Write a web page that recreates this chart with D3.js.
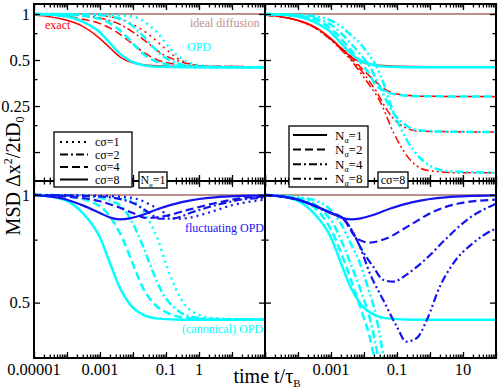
<!DOCTYPE html>
<html>
<head>
<meta charset="utf-8">
<script src="https://d3js.org/d3.v7.min.js"></script>
<style>
  html, body { margin: 0; padding: 0; background: #fff; }
  svg { display: block; font-family: "Liberation Serif", "Times New Roman", serif; }
</style>
</head>
<body>
<div id="graph"></div>
<script>
///////////////////////////////////////////////////////////////////////////////
// Data: [time t/tau_B, MSD dx^2/2tD0] ////////////////////
///////////////////////////////////////////////////////////////////////////////

// N_alpha = 1, c sigma = 8, 4, 2, 1 -- (canonical) OPD
const opdN1c8 = [[1e-5,1.0],[3e-5,0.99],[1e-4,0.962],[3e-4,0.89],[1e-3,0.76],[2e-3,0.645],[4e-3,0.55],[8e-3,0.495],[2e-2,0.463],[6e-2,0.451],[0.3,0.448],[100,0.448]];
const opdN1c4 = [[1e-5,1.0],[1e-4,0.99],[1e-3,0.93],[2e-3,0.87],[5e-3,0.75],[1e-2,0.64],[2e-2,0.55],[5e-2,0.49],[0.1,0.47],[0.3,0.455],[3,0.449],[100,0.448]];
const opdN1c2 = [[1e-5,1.0],[3e-4,0.995],[3e-3,0.95],[6e-3,0.9],[1e-2,0.83],[2e-2,0.72],[4e-2,0.61],[8e-2,0.53],[0.2,0.48],[0.5,0.458],[3,0.45],[100,0.448]];
const opdN1c1 = [[1e-5,1.0],[1e-3,0.995],[1e-2,0.96],[3e-2,0.85],[6e-2,0.74],[0.1,0.64],[0.2,0.545],[0.4,0.49],[1,0.462],[3,0.452],[100,0.448]];

// N_alpha = 1 -- exact
const exN1c8 = [[1e-5,0.985],[3e-5,0.96],[1e-4,0.91],[3e-4,0.83],[1e-3,0.69],[2e-3,0.6],[4e-3,0.525],[1e-2,0.48],[3e-2,0.462],[0.1,0.455],[1,0.452],[100,0.452]];
const exN1c4 = [[1e-5,0.995],[1e-4,0.965],[3e-4,0.925],[1e-3,0.865],[3e-3,0.77],[6e-3,0.69],[1e-2,0.635],[2e-2,0.565],[5e-2,0.505],[0.2,0.468],[1,0.455],[100,0.452]];
const exN1c2 = [[1e-5,1.0],[1e-4,0.99],[1e-3,0.94],[4e-3,0.855],[1e-2,0.76],[2.5e-2,0.66],[7e-2,0.555],[0.2,0.5],[0.5,0.47],[2,0.455],[100,0.452]];
const exN1c1 = [[1e-5,1.0],[1e-3,0.98],[3e-3,0.94],[1.3e-2,0.83],[3.5e-2,0.715],[9e-2,0.6],[0.22,0.515],[0.55,0.472],[2,0.455],[100,0.452]];

// c sigma = 8, N_alpha = 2, 4, 8 -- exact (N_alpha = 1 is exN1c8)
const exC8n2 = [[1e-5,0.985],[1e-4,0.905],[3e-4,0.825],[1e-3,0.685],[2e-3,0.6],[4e-3,0.53],[7e-3,0.46],[1.2e-2,0.41],[2e-2,0.37],[4e-2,0.325],[0.1,0.3],[0.5,0.29],[100,0.288]];
const exC8n4 = [[1e-5,0.985],[1e-4,0.905],[3e-4,0.82],[1e-3,0.68],[2e-3,0.59],[4e-3,0.51],[8e-3,0.43],[1.5e-2,0.36],[2.4e-2,0.31],[5e-2,0.235],[0.12,0.19],[0.5,0.171],[100,0.169]];
const exC8n8 = [[1e-5,0.985],[1e-4,0.905],[3e-4,0.82],[1e-3,0.675],[2e-3,0.585],[4e-3,0.5],[8e-3,0.41],[1.5e-2,0.34],[3e-2,0.27],[8e-2,0.166],[0.2,0.118],[0.8,0.095],[8,0.0915],[100,0.0915]];

// c sigma = 8 -- (canonical) OPD (N_alpha = 1 is opdN1c8)
const opdC8n2 = [[1e-5,1.0],[1e-4,0.975],[1e-3,0.8],[2e-3,0.69],[4e-3,0.58],[8e-3,0.48],[1.5e-2,0.4],[2.1e-2,0.35],[4e-2,0.315],[0.1,0.297],[0.5,0.29],[100,0.288]];
const opdC8n4 = [[1e-5,1.0],[1e-4,0.98],[1e-3,0.85],[2e-3,0.75],[4e-3,0.64],[8e-3,0.54],[1.5e-2,0.452],[3e-2,0.335],[7.8e-2,0.224],[0.155,0.193],[0.4,0.174],[3,0.17],[100,0.169]];
const opdC8n8 = [[1e-5,1.0],[1e-4,0.985],[5e-4,0.95],[2e-3,0.83],[4e-3,0.73],[7.6e-3,0.643],[1.2e-2,0.566],[2.4e-2,0.452],[3.9e-2,0.352],[6.2e-2,0.26],[0.123,0.183],[0.31,0.129],[0.8,0.105],[3.2,0.094],[100,0.0915]];

// fluctuating OPD, N_alpha = 1, c sigma = 8, 4, 2, 1
const flN1c8 = [[1e-5,1.0],[1e-4,0.97],[3e-4,0.935],[1e-3,0.89],[2e-3,0.865],[4e-3,0.855],[8e-3,0.86],[2e-2,0.88],[6e-2,0.915],[0.3,0.955],[3,0.985],[100,0.997]];
const flN1c4 = [[1e-5,1.0],[1e-4,0.99],[1e-3,0.96],[3e-3,0.93],[1e-2,0.89],[2.5e-2,0.862],[5e-2,0.865],[0.1,0.874],[0.4,0.905],[3,0.948],[20,0.98],[100,0.99]];
const flN1c2 = [[1e-5,1.0],[1e-3,0.99],[1e-2,0.95],[2.6e-2,0.9],[6.6e-2,0.858],[0.16,0.86],[0.7,0.898],[3.5,0.938],[28,0.975],[100,0.982]];
const flN1c1 = [[1e-5,1.0],[1e-3,0.995],[1e-2,0.98],[1.6e-2,0.968],[6.6e-2,0.908],[0.2,0.857],[0.45,0.862],[1.7,0.889],[11,0.938],[100,0.97]];

// fluctuating OPD, c sigma = 8, N_alpha = 2, 4, 8
const flC8n2 = [[1e-5,1.0],[1e-4,0.97],[3e-4,0.935],[1e-3,0.89],[2.3e-3,0.86],[5.4e-3,0.765],[1e-2,0.74],[1.5e-2,0.736],[4.9e-2,0.757],[0.25,0.824],[1.26,0.898],[8.1,0.948],[100,0.97]];
const flC8n4 = [[1e-5,1.0],[1e-4,0.97],[3e-4,0.935],[1e-3,0.89],[2.3e-3,0.86],[5.4e-3,0.765],[7.6e-3,0.717],[1.9e-2,0.63],[3.8e-2,0.579],[7.8e-2,0.572],[0.19,0.598],[0.8,0.666],[3.2,0.757],[13,0.851],[83,0.938],[100,0.945]];
const flC8n8 = [[1e-5,1.0],[1e-4,0.97],[3e-4,0.935],[1e-3,0.89],[2.3e-3,0.86],[5.4e-3,0.765],[7.6e-3,0.715],[1.5e-2,0.604],[3.8e-2,0.509],[9.8e-2,0.429],[0.19,0.389],[0.4,0.398],[0.8,0.447],[2,0.555],[5.1,0.644],[20,0.733],[83,0.799],[100,0.805]];

// Ideal diffusion
const ideal = [[1e-5,1],[100,1]];

// Axes
const timeDomain = [1e-5, 100];
const topValueDomain = [0.0808, 1.1626];
const bottomValueDomain = [0.35, 1.094];
const leftTimeLabels = [[1e-5,"0.00001"],[1e-3,"0.001"],[0.1,"0.1"],[1,"1"]];
const rightTimeLabels = [[1e-3,"0.001"],[0.1,"0.1"],[10,"10"]];
const topValueLabels = [[1,"1"],[0.5,"0.5"],[0.25,"0.25"]];
const bottomValueLabels = [[1,"1"],[0.5,"0.5"]];
const topValueMajor = [1, 0.5, 0.25, 0.125];
const topValueMinor = [0.75, 0.375, 0.1875];
const bottomValueMajor = [1, 0.5];
const bottomValueMinor = [0.75];

const csLegend = ["cσ=1", "cσ=2", "cσ=4", "cσ=8"];
const naLegend = ["1", "2", "4", "8"];

///////////////////////////////////////////////////////////////////////////////
// Layout and styles //////////////////////////////////////////////////////////
///////////////////////////////////////////////////////////////////////////////

const width = 498, height = 389;
const panelW = 231, panelH = 177;
const left0 = 34, right0 = 265, top0 = 4, bottom0 = 181;

const RED = "#ff0000", CYAN = "#00ffff", BLUE = "#1414f0", ROSY = "#bc8f8f";
const DASH = {
  solid: null,
  dot: "2,4",
  dashdot: "8,3,2,3",
  dash: "8,4",
  dashdotdot: "8,3,2,3,2,3",
};

const decades = d3.range(-5, 3).map(e => Math.pow(10, e));
const minorTimes = d3.range(-5, 2).flatMap(e =>
  d3.range(2, 10).map(k => k * Math.pow(10, e))
);

const svg = d3
  .select("#graph")
  .append("svg")
  .attr("width", width)
  .attr("height", height);

/**
 * One panel: frame, inward ticks on all four sides, clipped curves.
 */
function drawPanel(id, x0, y0, yDomain, yMajor, yMinor, curves) {
  const x = d3.scaleLog().domain(timeDomain).range([0, panelW]);
  const y = d3.scaleLog().domain(yDomain).range([panelH, 0]);

  const g = svg.append("g").attr("transform", `translate(${x0},${y0})`);

  svg
    .append("clipPath")
    .attr("id", `clip-${id}`)
    .append("rect")
    .attr("width", panelW)
    .attr("height", panelH);

  const line = d3
    .line()
    .x(d => x(d[0]))
    .y(d => y(d[1]))
    .curve(d3.curveMonotoneX);

  const plot = g.append("g").attr("clip-path", `url(#clip-${id})`);
  curves.forEach(c => {
    plot
      .append("path")
      .attr("d", line(c.data))
      .attr("fill", "none")
      .attr("stroke", c.color)
      .attr("stroke-width", c.width)
      .attr("stroke-dasharray", DASH[c.dash]);
  });

  // Ticks on all four sides, pointing inwards
  const tickAxis = (axis, values, size, tx, ty) => {
    const a = g
      .append("g")
      .attr("transform", `translate(${tx},${ty})`)
      .call(axis.tickValues(values).tickSize(-size).tickFormat(""));
    a.select(".domain").remove();
    a.selectAll("line").attr("stroke", "#000").attr("stroke-width", 1.3);
  };
  [[d3.axisBottom, 0, panelH], [d3.axisTop, 0, 0]].forEach(([f, tx, ty]) => {
    tickAxis(f(x), decades, 6, tx, ty);
    tickAxis(f(x), minorTimes, 3.5, tx, ty);
  });
  [[d3.axisLeft, 0, 0], [d3.axisRight, panelW, 0]].forEach(([f, tx, ty]) => {
    tickAxis(f(y), yMajor, 6, tx, ty);
    tickAxis(f(y), yMinor, 3.5, tx, ty);
  });

  g.append("rect")
    .attr("width", panelW)
    .attr("height", panelH)
    .attr("fill", "none")
    .attr("stroke", "#000")
    .attr("stroke-width", 2);

  return { g, x, y };
}

const idealCurve = { data: ideal, color: ROSY, width: 2, dash: "solid" };

const tl = drawPanel("tl", left0, top0, topValueDomain, topValueMajor, topValueMinor, [
  idealCurve,
  { data: exN1c1, color: RED, width: 1.5, dash: "dot" },
  { data: exN1c2, color: RED, width: 1.5, dash: "dashdot" },
  { data: exN1c4, color: RED, width: 1.5, dash: "dash" },
  { data: exN1c8, color: RED, width: 1.5, dash: "solid" },
  { data: opdN1c1, color: CYAN, width: 2.5, dash: "dot" },
  { data: opdN1c2, color: CYAN, width: 2.5, dash: "dashdot" },
  { data: opdN1c4, color: CYAN, width: 2.5, dash: "dash" },
  { data: opdN1c8, color: CYAN, width: 2.5, dash: "solid" },
]);

const tr = drawPanel("tr", right0, top0, topValueDomain, topValueMajor, topValueMinor, [
  idealCurve,
  { data: exN1c8, color: RED, width: 1.5, dash: "solid" },
  { data: exC8n2, color: RED, width: 1.5, dash: "dash" },
  { data: exC8n4, color: RED, width: 1.5, dash: "dashdot" },
  { data: exC8n8, color: RED, width: 1.5, dash: "dashdotdot" },
  { data: opdN1c8, color: CYAN, width: 2.5, dash: "solid" },
  { data: opdC8n2, color: CYAN, width: 2.5, dash: "dash" },
  { data: opdC8n4, color: CYAN, width: 2.5, dash: "dashdot" },
  { data: opdC8n8, color: CYAN, width: 2.5, dash: "dashdotdot" },
]);

const bl = drawPanel("bl", left0, bottom0, bottomValueDomain, bottomValueMajor, bottomValueMinor, [
  idealCurve,
  { data: opdN1c1, color: CYAN, width: 2.5, dash: "dot" },
  { data: opdN1c2, color: CYAN, width: 2.5, dash: "dashdot" },
  { data: opdN1c4, color: CYAN, width: 2.5, dash: "dash" },
  { data: opdN1c8, color: CYAN, width: 2.5, dash: "solid" },
  { data: flN1c1, color: BLUE, width: 2.2, dash: "dot" },
  { data: flN1c2, color: BLUE, width: 2.2, dash: "dashdot" },
  { data: flN1c4, color: BLUE, width: 2.2, dash: "dash" },
  { data: flN1c8, color: BLUE, width: 2.2, dash: "solid" },
]);

const br = drawPanel("br", right0, bottom0, bottomValueDomain, bottomValueMajor, bottomValueMinor, [
  idealCurve,
  { data: opdN1c8, color: CYAN, width: 2.5, dash: "solid" },
  { data: opdC8n2, color: CYAN, width: 2.5, dash: "dash" },
  { data: opdC8n4, color: CYAN, width: 2.5, dash: "dashdot" },
  { data: opdC8n8, color: CYAN, width: 2.5, dash: "dashdotdot" },
  { data: flN1c8, color: BLUE, width: 2.2, dash: "solid" },
  { data: flC8n2, color: BLUE, width: 2.2, dash: "dash" },
  { data: flC8n4, color: BLUE, width: 2.2, dash: "dashdot" },
  { data: flC8n8, color: BLUE, width: 2.2, dash: "dashdotdot" },
]);

///////////////////////////////////////////////////////////////////////////////
// Tick labels and titles /////////////////////////////////////////////////////
///////////////////////////////////////////////////////////////////////////////

function timeLabels(p, labels) {
  p.g.selectAll(null)
    .data(labels)
    .enter()
    .append("text")
    .attr("x", d => p.x(d[0]))
    .attr("y", panelH + 17)
    .attr("text-anchor", "middle")
    .style("font-size", "16.5px")
    .text(d => d[1]);
}
timeLabels(bl, leftTimeLabels);
timeLabels(br, rightTimeLabels);

function valueLabels(p, labels) {
  p.g.selectAll(null)
    .data(labels)
    .enter()
    .append("text")
    .attr("x", -4)
    .attr("y", d => p.y(d[0]))
    .attr("dy", "0.35em")
    .attr("text-anchor", "end")
    .style("font-size", "16.5px")
    .text(d => d[1]);
}
valueLabels(tl, topValueLabels);
valueLabels(bl, bottomValueLabels);

// x title
const xt = svg
  .append("text")
  .attr("x", 267)
  .attr("y", 383)
  .attr("text-anchor", "middle")
  .style("font-size", "20px");
xt.append("tspan").text("time t/τ");
xt.append("tspan").attr("dy", 4).style("font-size", "11px").text("B");

// y title
const yt = svg
  .append("text")
  .attr("transform", "translate(20,176) rotate(-90)")
  .attr("text-anchor", "middle")
  .style("font-size", "20px");
yt.append("tspan").text("MSD Δx");
yt.append("tspan").attr("dy", -8).style("font-size", "12px").text("2");
yt.append("tspan").attr("dy", 8).text("/2tD");
yt.append("tspan").attr("dy", 4).style("font-size", "12px").text("0");

// Annotations
const note = (x, y, txt, color) =>
  svg
    .append("text")
    .attr("x", x)
    .attr("y", y)
    .style("font-size", "12px")
    .attr("fill", color)
    .text(txt);
note(190, 27, "ideal diffusion", ROSY);
note(45, 29, "exact", RED);
note(187, 51, "OPD", CYAN);
note(185, 232, "fluctuating OPD", BLUE);
note(182, 333, "(canonical) OPD", CYAN);

///////////////////////////////////////////////////////////////////////////////
// Legends ////////////////////////////////////////////////////////////////////
///////////////////////////////////////////////////////////////////////////////

function box(x, y, w, h) {
  svg.append("rect")
    .attr("x", x).attr("y", y).attr("width", w).attr("height", h)
    .attr("fill", "#fff").attr("stroke", "#000").attr("stroke-width", 1.3);
}

// c sigma legend
box(54, 132, 78, 55);
["dot", "dashdot", "dash", "solid"].forEach((dash, i) => {
  const yy = 142 + i * 12.5;
  svg.append("line")
    .attr("x1", 60).attr("x2", 88).attr("y1", yy).attr("y2", yy)
    .attr("stroke", "#000").attr("stroke-width", 2)
    .attr("stroke-dasharray", DASH[dash]);
  svg.append("text")
    .attr("x", 95).attr("y", yy).attr("dy", "0.35em")
    .style("font-size", "12px").text(csLegend[i]);
});

// N alpha legend
box(289, 126, 79, 61);
["solid", "dash", "dashdot", "dashdotdot"].forEach((dash, i) => {
  const yy = 135 + i * 14.6;
  svg.append("line")
    .attr("x1", 293).attr("x2", 327).attr("y1", yy).attr("y2", yy)
    .attr("stroke", "#000").attr("stroke-width", 2)
    .attr("stroke-dasharray", DASH[dash]);
  const t = svg.append("text")
    .attr("x", 335).attr("y", yy).attr("dy", "0.35em")
    .style("font-size", "13px");
  t.append("tspan").text("N");
  t.append("tspan").attr("dy", 3).style("font-size", "8px").text("α");
  t.append("tspan").attr("dy", -3).text("=" + naLegend[i]);
});

// Panel tags
box(139, 172, 28, 16);
const tagN = svg.append("text").attr("x", 153).attr("y", 180).attr("dy", "0.35em")
  .attr("text-anchor", "middle").style("font-size", "12px");
tagN.append("tspan").text("N");
tagN.append("tspan").attr("dy", 3).style("font-size", "7px").text("α");
tagN.append("tspan").attr("dy", -3).text("=1");

box(378, 172, 30, 16);
svg.append("text").attr("x", 393).attr("y", 180).attr("dy", "0.35em")
  .attr("text-anchor", "middle").style("font-size", "12px").text("cσ=8");
</script>
</body>
</html>
